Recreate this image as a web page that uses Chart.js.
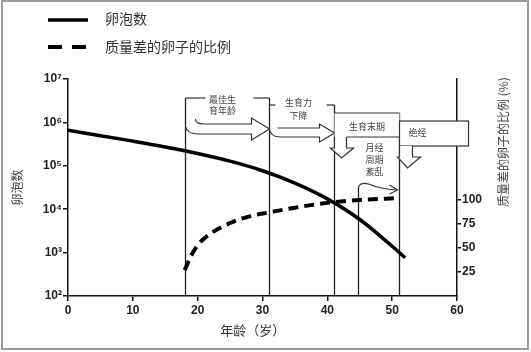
<!DOCTYPE html>
<html>
<head>
<meta charset="utf-8">
<script src="https://cdn.jsdelivr.net/npm/chart.js@4.4.1/dist/chart.umd.min.js"></script>
<style>
  html, body { margin: 0; padding: 0; background: #fff; }
  #wrap { position: relative; width: 531px; height: 352px; }
  #frame { position: absolute; left: 1px; top: 0; width: 528px; height: 350px; border: 2px solid #9b9b9b; box-sizing: border-box; pointer-events: none; }
</style>
</head>
<body>
<div id="wrap">
  <canvas id="chart" width="531" height="352"></canvas>
  <div id="frame"></div>
</div>
<script>
// 数据
const ages = [0, 5, 10, 15, 20, 25, 30, 35, 40, 45, 50, 52];
const follicles = [660000, 495000, 370000, 271000, 192000, 128000, 77000, 40000, 17300, 5800, 1400, 760];
const poorAges = [18, 19, 20, 22, 25, 28, 31, 35, 40, 45, 51];
const poorPercent = [27, 42, 53, 65, 76, 83, 87, 92, 97, 100, 102];
const xTicks = [0, 10, 20, 30, 40, 50, 60];
const yTicks = [100, 1000, 10000, 100000, 1000000, 10000000];
const yTickLabels = ['10²', '10³', '10⁴', '10⁵', '10⁶', '10⁷'];
const rightTicks = [25, 50, 75, 100];
const seriesLabels = ['卵泡数', '质量差的卵子的比例'];
const phaseAges = [18, 31, 41, 44.7, 51];

const CJK = '"Noto Sans CJK SC", "Noto Sans", sans-serif';
const NUM = '"Liberation Sans", Arial, sans-serif';

// 阶段标注：竖线、方框、箭头
const phasePlugin = {
  id: 'phases',
  beforeDatasetsDraw(chart) {
    const ctx = chart.ctx, xs = chart.scales.x;
    const { top: T, bottom: B } = chart.chartArea;
    const tops = [19, 19, 26, 108, 34];
    ctx.save();
    ctx.strokeStyle = '#222';
    ctx.lineWidth = 1.3;
    phaseAges.forEach((a, i) => {
      const px = Math.round(xs.getPixelForValue(a)) + 0.5;
      ctx.beginPath(); ctx.moveTo(px, B); ctx.lineTo(px, T + tops[i]); ctx.stroke();
    });
    ctx.restore();
  },
  afterDatasetsDraw(chart) {
    const ctx = chart.ctx, xs = chart.scales.x;
    const T = chart.chartArea.top;
    const [x1, x2, x3, x4, x5] = phaseAges.map(a => Math.round(xs.getPixelForValue(a)) + 0.5);
    ctx.save();
    ctx.strokeStyle = '#333';
    ctx.lineWidth = 1.2;
    ctx.fillStyle = '#fff';
    const line = (ax, ay, bx, by) => { ctx.beginPath(); ctx.moveTo(ax, ay); ctx.lineTo(bx, by); ctx.stroke(); };
    const text = (s, x, y, align) => {
      ctx.fillStyle = '#444'; ctx.textAlign = align || 'center'; ctx.textBaseline = 'middle';
      ctx.font = '9px ' + CJK; ctx.fillText(s, x, y); ctx.fillStyle = '#fff';
    };

    // 最佳生育年龄
    line(x1, T + 19, x1 + 20, T + 19);
    line(x2 - 16, T + 19, x2, T + 19);
    text('最佳生', x1 + 37, T + 21);
    text('育年龄', x1 + 37, T + 32);
    ctx.beginPath();
    ctx.moveTo(x1 + 10, T + 40);
    ctx.quadraticCurveTo(x1 + 10, T + 45, x1 + 18, T + 45);
    ctx.lineTo(x2 - 18, T + 45); ctx.lineTo(x2 - 18, T + 39); ctx.lineTo(x2, T + 50);
    ctx.lineTo(x2 - 18, T + 61); ctx.lineTo(x2 - 18, T + 55); ctx.lineTo(x1 + 13, T + 55);
    ctx.quadraticCurveTo(x1 + 1, T + 55, x1, T + 47);
    ctx.fill(); ctx.stroke();

    // 生育力下降
    line(x2, T + 26, x2 + 6, T + 26);
    line(x3 - 8, T + 26, x3, T + 26);
    text('生育力', x2 + 29, T + 24);
    text('下降', x2 + 29, T + 37);
    ctx.beginPath();
    ctx.moveTo(x2 + 8, T + 49);
    ctx.lineTo(x3 - 15, T + 49); ctx.lineTo(x3 - 15, T + 45); ctx.lineTo(x3, T + 54);
    ctx.lineTo(x3 - 15, T + 63); ctx.lineTo(x3 - 15, T + 58); ctx.lineTo(x2 + 11, T + 58);
    ctx.quadraticCurveTo(x2 + 1, T + 58, x2, T + 50);
    ctx.fill(); ctx.stroke();

    // 生育末期
    ctx.fillRect(x3, T + 34, x5 - x3, 24);
    line(x3, T + 34, x5, T + 34);
    line(x3 + 12, T + 58, x5, T + 58);
    text('生育末期', (x3 + x5) / 2, T + 48);
    ctx.beginPath();
    ctx.moveTo(x3, T + 58); ctx.lineTo(x3, T + 69); ctx.lineTo(x3 - 4, T + 69);
    ctx.lineTo(x3 + 7, T + 79); ctx.lineTo(x3 + 19, T + 69); ctx.lineTo(x3 + 12, T + 69);
    ctx.lineTo(x3 + 12, T + 58);
    ctx.fill(); ctx.stroke();

    // 月经周期紊乱
    text('月经', x3 + 40, T + 69);
    text('周期', x3 + 40, T + 81);
    text('紊乱', x3 + 40, T + 93);
    ctx.beginPath();
    ctx.moveTo(x4, T + 108);
    ctx.quadraticCurveTo(x4 + 2, T + 103, x4 + 10, T + 105);
    ctx.quadraticCurveTo(x4 + 22, T + 110, x5 - 3, T + 111);
    ctx.stroke();
    ctx.beginPath();
    ctx.moveTo(x5 - 10, T + 106); ctx.lineTo(x5 - 2, T + 111); ctx.lineTo(x5 - 10, T + 115);
    ctx.stroke();

    // 绝经
    ctx.fillRect(x5, T + 42, 69, 25);
    ctx.strokeRect(x5, T + 42, 69, 25);
    text('绝经', x5 + 18, T + 54);
    ctx.beginPath();
    ctx.moveTo(x5, T + 67); ctx.lineTo(x5, T + 78); ctx.lineTo(x5 - 2, T + 78);
    ctx.lineTo(x5 + 8, T + 89); ctx.lineTo(x5 + 21, T + 78); ctx.lineTo(x5 + 13, T + 78);
    ctx.lineTo(x5 + 13, T + 67);
    ctx.fill(); ctx.stroke();
    ctx.restore();
  },
  afterDraw(chart) {
    const ctx = chart.ctx;
    const ds = chart.data.datasets;
    ctx.save();
    // 图例
    ctx.strokeStyle = '#000';
    ctx.lineWidth = 3.5;
    ctx.beginPath(); ctx.moveTo(48, 20); ctx.lineTo(88, 20); ctx.stroke();
    ctx.lineWidth = 4;
    ctx.setLineDash([14, 10]);
    ctx.beginPath(); ctx.moveTo(48, 47); ctx.lineTo(88, 47); ctx.stroke();
    ctx.setLineDash([]);
    ctx.fillStyle = '#333';
    ctx.font = '14px ' + CJK;
    ctx.textAlign = 'left';
    ctx.textBaseline = 'middle';
    ctx.fillText(ds[0].label, 105, 19);
    ctx.fillText(ds[1].label, 105, 47);
    // 右轴标题
    ctx.translate(503, 207);
    ctx.rotate(-Math.PI / 2);
    ctx.font = '12px ' + CJK;
    ctx.fillStyle = '#444';
    ctx.fillText('质量差的卵子的比例 (%)', 0, 0);
    ctx.restore();
  }
};

new Chart(document.getElementById('chart'), {
  type: 'line',
  data: {
    datasets: [
      {
        label: seriesLabels[0],
        data: ages.map((a, i) => ({ x: a, y: follicles[i] })),
        yAxisID: 'y',
        borderColor: '#000',
        borderWidth: 3.5,
        pointRadius: 0,
        tension: 0.4
      },
      {
        label: seriesLabels[1],
        data: poorAges.map((a, i) => ({ x: a, y: poorPercent[i] })),
        yAxisID: 'y2',
        borderColor: '#000',
        borderWidth: 4,
        borderDash: [10, 6],
        pointRadius: 0,
        cubicInterpolationMode: 'monotone'
      }
    ]
  },
  options: {
    responsive: false,
    animation: false,
    devicePixelRatio: 1,
    layout: { padding: { top: 79, left: 0, right: 0, bottom: 0 } },
    plugins: { legend: { display: false }, tooltip: { enabled: false } },
    scales: {
      x: {
        type: 'linear', min: 0, max: 60,
        afterBuildTicks: s => { s.ticks = xTicks.map(v => ({ value: v })); },
        afterFit: s => { s.height = 56; },
        grid: { drawOnChartArea: false, tickLength: 5, color: '#111', lineWidth: 1.5 },
        border: { color: '#111', width: 1.5 },
        ticks: { font: { family: NUM, size: 12, weight: 'bold' }, color: '#222', padding: 2, maxRotation: 0 },
        title: { display: true, text: '年龄（岁）　　', font: { family: CJK, size: 13 }, color: '#333', padding: { top: 0, bottom: 14 } }
      },
      y: {
        type: 'logarithmic', position: 'left', min: 100, max: 10000000,
        afterBuildTicks: s => { s.ticks = yTicks.map(v => ({ value: v })); },
        afterFit: s => { s.width = 68; },
        grid: { drawOnChartArea: false, tickLength: 5, color: '#111', lineWidth: 1.5 },
        border: { color: '#111', width: 1.5 },
        ticks: { callback: (v, i) => yTickLabels[i], font: { family: NUM, size: 12, weight: 'bold' }, color: '#222', padding: 1 },
        title: { display: true, text: '卵泡数', font: { family: CJK, size: 12 }, color: '#444', padding: { top: 10 } }
      },
      y2: {
        type: 'linear', position: 'right', min: 0, max: 226,
        afterBuildTicks: s => { s.ticks = rightTicks.map(v => ({ value: v })); },
        afterFit: s => { s.width = 74; },
        grid: { drawOnChartArea: false, tickLength: 4, color: '#111', lineWidth: 1.5 },
        border: { color: '#111', width: 1.5 },
        ticks: { font: { family: NUM, size: 12, weight: 'bold' }, color: '#222', padding: 1 }
      }
    }
  },
  plugins: [phasePlugin]
});
</script>
</body>
</html>
